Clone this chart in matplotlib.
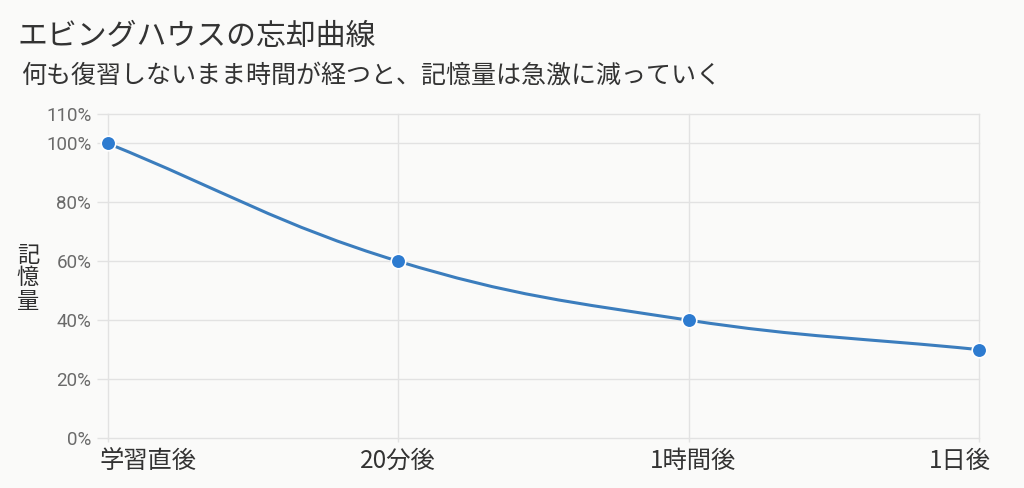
import matplotlib
matplotlib.use("Agg")
import matplotlib.pyplot as plt
from matplotlib.path import Path
from matplotlib.patches import PathPatch
from matplotlib.transforms import ScaledTranslation
import numpy as np

plt.rcParams['font.family'] = ['Noto Sans CJK JP', 'DejaVu Sans']

categories = ["学習直後", "20分後", "1時間後", "1日後"]
retention = [100, 60, 40, 30]
y_ticks = [0, 20, 40, 60, 80, 100, 110]
y_tick_labels = ["0%", "20%", "40%", "60%", "80%", "100%", "110%"]
title = "エビングハウスの忘却曲線"
subtitle = "何も復習しないまま時間が経つと、記憶量は急激に減っていく"
y_label = "記\n憶\n量"

BG = "#fafaf9"
GRID = "#e2e2e2"
LINE = "#3b7dbd"
MARK = "#2d7bd0"
DPI = 100

fig = plt.figure(figsize=(10.24, 4.88), dpi=DPI, facecolor=BG)
ax = fig.add_axes([108/1024, 50/488, (979-108)/1024, (374-50)/488])
ax.set_facecolor(BG)
ax.set_xlim(0, len(categories) - 1)
ax.set_ylim(0, 110)
ax.set_yticks(y_ticks)
ax.set_yticklabels(y_tick_labels)
ax.set_xticks(range(len(categories)))
ax.set_xticklabels(categories)
ax.tick_params(axis='y', length=8, color=GRID, width=1, pad=4,
               labelsize=13.5, labelcolor="#6a6a6a", labelfontfamily="Roboto")
ax.tick_params(axis='x', length=3, color=GRID, width=1, pad=4,
               labelsize=17.5, labelcolor="#333333")
# shift edge labels inward, like the reference
x_offsets_px = [40, 0, 4, -19]
for lab, dx in zip(ax.get_xticklabels(), x_offsets_px):
    lab.set_transform(lab.get_transform() + ScaledTranslation(dx / DPI, 0, fig.dpi_scale_trans))
for s in ax.spines.values():
    s.set_visible(False)
ax.grid(True, color=GRID, linewidth=1)
ax.set_axisbelow(True)
for gl in ax.get_xgridlines() + ax.get_ygridlines():
    gl.set_clip_on(False)

# Chart.js-style spline (tension 0.4) computed in display space
fig.canvas.draw()
xs = np.arange(len(retention), dtype=float)
pts = ax.transData.transform(np.column_stack([xs, retention]))
t = 0.4
n = len(pts)
cps = []
for i in range(n):
    prev = pts[max(i - 1, 0)]
    cur = pts[i]
    nxt = pts[min(i + 1, n - 1)]
    d01 = np.hypot(*(cur - prev))
    d12 = np.hypot(*(nxt - cur))
    tot = d01 + d12
    s01 = d01 / tot if tot else 0
    s12 = d12 / tot if tot else 0
    fa, fb = t * s01, t * s12
    cps.append((cur - fa * (nxt - prev), cur + fb * (nxt - prev)))
verts = [pts[0]]
codes = [Path.MOVETO]
for i in range(n - 1):
    verts += [cps[i][1], cps[i + 1][0], pts[i + 1]]
    codes += [Path.CURVE4] * 3
inv = ax.transData.inverted()
verts_d = inv.transform(np.array(verts))
ax.add_patch(PathPatch(Path(verts_d, codes), facecolor='none', edgecolor=LINE,
                       linewidth=2.2, zorder=3, clip_on=False))
ax.plot(xs, retention, linestyle='none', marker='o', markersize=10.5,
        markerfacecolor=MARK, markeredgecolor='white', markeredgewidth=1.2,
        zorder=4, clip_on=False)

fig.text(17/1024, 1 - 36/488, title, fontsize=21.5, color="#333333", va='center', ha='left')
fig.text(21/1024, 1 - 76/488, subtitle, fontsize=18, color="#333333", va='center', ha='left')
fig.text(28/1024, 1 - 278/488, y_label, fontsize=16, color="#2e2e2e", va='center', ha='center',
         linespacing=1.0)

fig.savefig("out.png", dpi=DPI, facecolor=BG)
